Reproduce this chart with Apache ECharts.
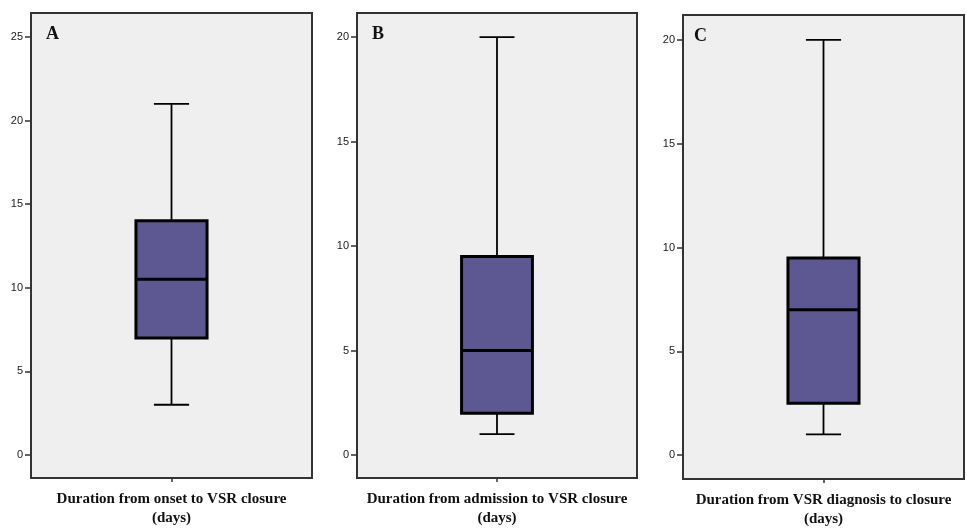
<!DOCTYPE html>
<html>
<head>
<meta charset="utf-8">
<script src="https://cdn.jsdelivr.net/npm/echarts@6/dist/echarts.min.js"></script>
<style>html,body{margin:0;padding:0;background:#fff}#c{width:967px;height:529px}</style>
</head>
<body>
<div id="c"></div>
<script>
// ---- data ----
const panelLetters = ['A', 'B', 'C'];
const categoriesA = ['Duration from onset to VSR closure\n(days)'];
const categoriesB = ['Duration from admission to VSR closure\n(days)'];
const categoriesC = ['Duration from VSR diagnosis to closure\n(days)'];
// [min, Q1, median, Q3, max]
const statsA = [3, 7, 10.5, 14, 21];
const statsB = [1, 2, 5, 9.5, 20];
const statsC = [1, 2.5, 7, 9.5, 20];
const ticksA = [0, 5, 10, 15, 20, 25];
const ticksB = [0, 5, 10, 15, 20];
const ticksC = [0, 5, 10, 15, 20];

// ---- layout ----
const grids = [
  {left: 31, top: 13, width: 281, height: 465},
  {left: 357, top: 13, width: 280, height: 465},
  {left: 683, top: 15, width: 281, height: 465}
];
const yRanges = [[-1.38, 26.43], [-1.10, 21.15], [-1.15, 21.2]];
const cats = [categoriesA, categoriesB, categoriesC];
const stats = [statsA, statsB, statsC];
const ticks = [ticksA, ticksB, ticksC];
const letterPos = [[41, 20], [367, 20], [689, 22]];

const FILL = '#5d5891';
function renderBox(params, api) {
  const x = api.value(0);
  const lo = api.coord([x, api.value(1)]);
  const q1 = api.coord([x, api.value(2)]);
  const med = api.coord([x, api.value(3)]);
  const q3 = api.coord([x, api.value(4)]);
  const hi = api.coord([x, api.value(5)]);
  const band = api.size([1, 0])[0];
  const bw = band * 0.253, cw = band * 0.125;
  const cx = lo[0];
  const thin = {stroke: '#000', lineWidth: 1.8};
  const thick = {stroke: '#000', lineWidth: 3};
  return {
    type: 'group',
    children: [
      {type: 'line', shape: {x1: cx, y1: hi[1], x2: cx, y2: q3[1]}, style: thin},
      {type: 'line', shape: {x1: cx - cw / 2, y1: hi[1], x2: cx + cw / 2, y2: hi[1]}, style: thin},
      {type: 'line', shape: {x1: cx, y1: q1[1], x2: cx, y2: lo[1]}, style: thin},
      {type: 'line', shape: {x1: cx - cw / 2, y1: lo[1], x2: cx + cw / 2, y2: lo[1]}, style: thin},
      {type: 'rect', shape: {x: cx - bw / 2, y: q3[1], width: bw, height: q1[1] - q3[1]},
        style: {fill: FILL, stroke: '#000', lineWidth: 3}},
      {type: 'line', shape: {x1: cx - bw / 2, y1: med[1], x2: cx + bw / 2, y2: med[1]}, style: thick}
    ]
  };
}

const option = {
  backgroundColor: '#ffffff',
  animation: false,
  title: panelLetters.map((t, i) => ({
    text: t, left: letterPos[i][0], top: letterPos[i][1],
    textStyle: {fontFamily: 'Liberation Serif', fontWeight: 'bold', fontSize: 18, color: '#111'}
  })),
  grid: grids.map(g => Object.assign({show: true, backgroundColor: '#efefef', borderColor: '#333', borderWidth: 2}, g)),
  xAxis: cats.map((c, i) => ({
    type: 'category', gridIndex: i, data: c, boundaryGap: true, position: 'bottom',
    axisLine: {show: false, onZero: false},
    axisTick: {show: true, alignWithLabel: true, length: 4, lineStyle: {color: '#333', width: 1.5}},
    axisLabel: {margin: 12, fontFamily: 'Liberation Serif', fontWeight: 'bold', fontSize: 15, lineHeight: 19, color: '#111'},
    splitLine: {show: false}
  })),
  yAxis: yRanges.map((r, i) => ({
    type: 'value', gridIndex: i, min: r[0], max: r[1],
    axisLine: {show: false},
    axisTick: {show: true, length: 6, customValues: ticks[i], lineStyle: {color: '#333', width: 1.5}},
    axisLabel: {customValues: ticks[i], margin: 8, fontFamily: 'Liberation Sans', fontSize: 11, color: '#1a1a1a'},
    splitLine: {show: false}
  })),
  series: stats.map((s, i) => ({
    type: 'custom', xAxisIndex: i, yAxisIndex: i,
    renderItem: renderBox,
    encode: {x: 0, y: [1, 2, 3, 4, 5]},
    data: [[0].concat(s)]
  }))
};
echarts.init(document.getElementById('c'), null, {renderer: 'canvas'}).setOption(option);
</script>
</body>
</html>
